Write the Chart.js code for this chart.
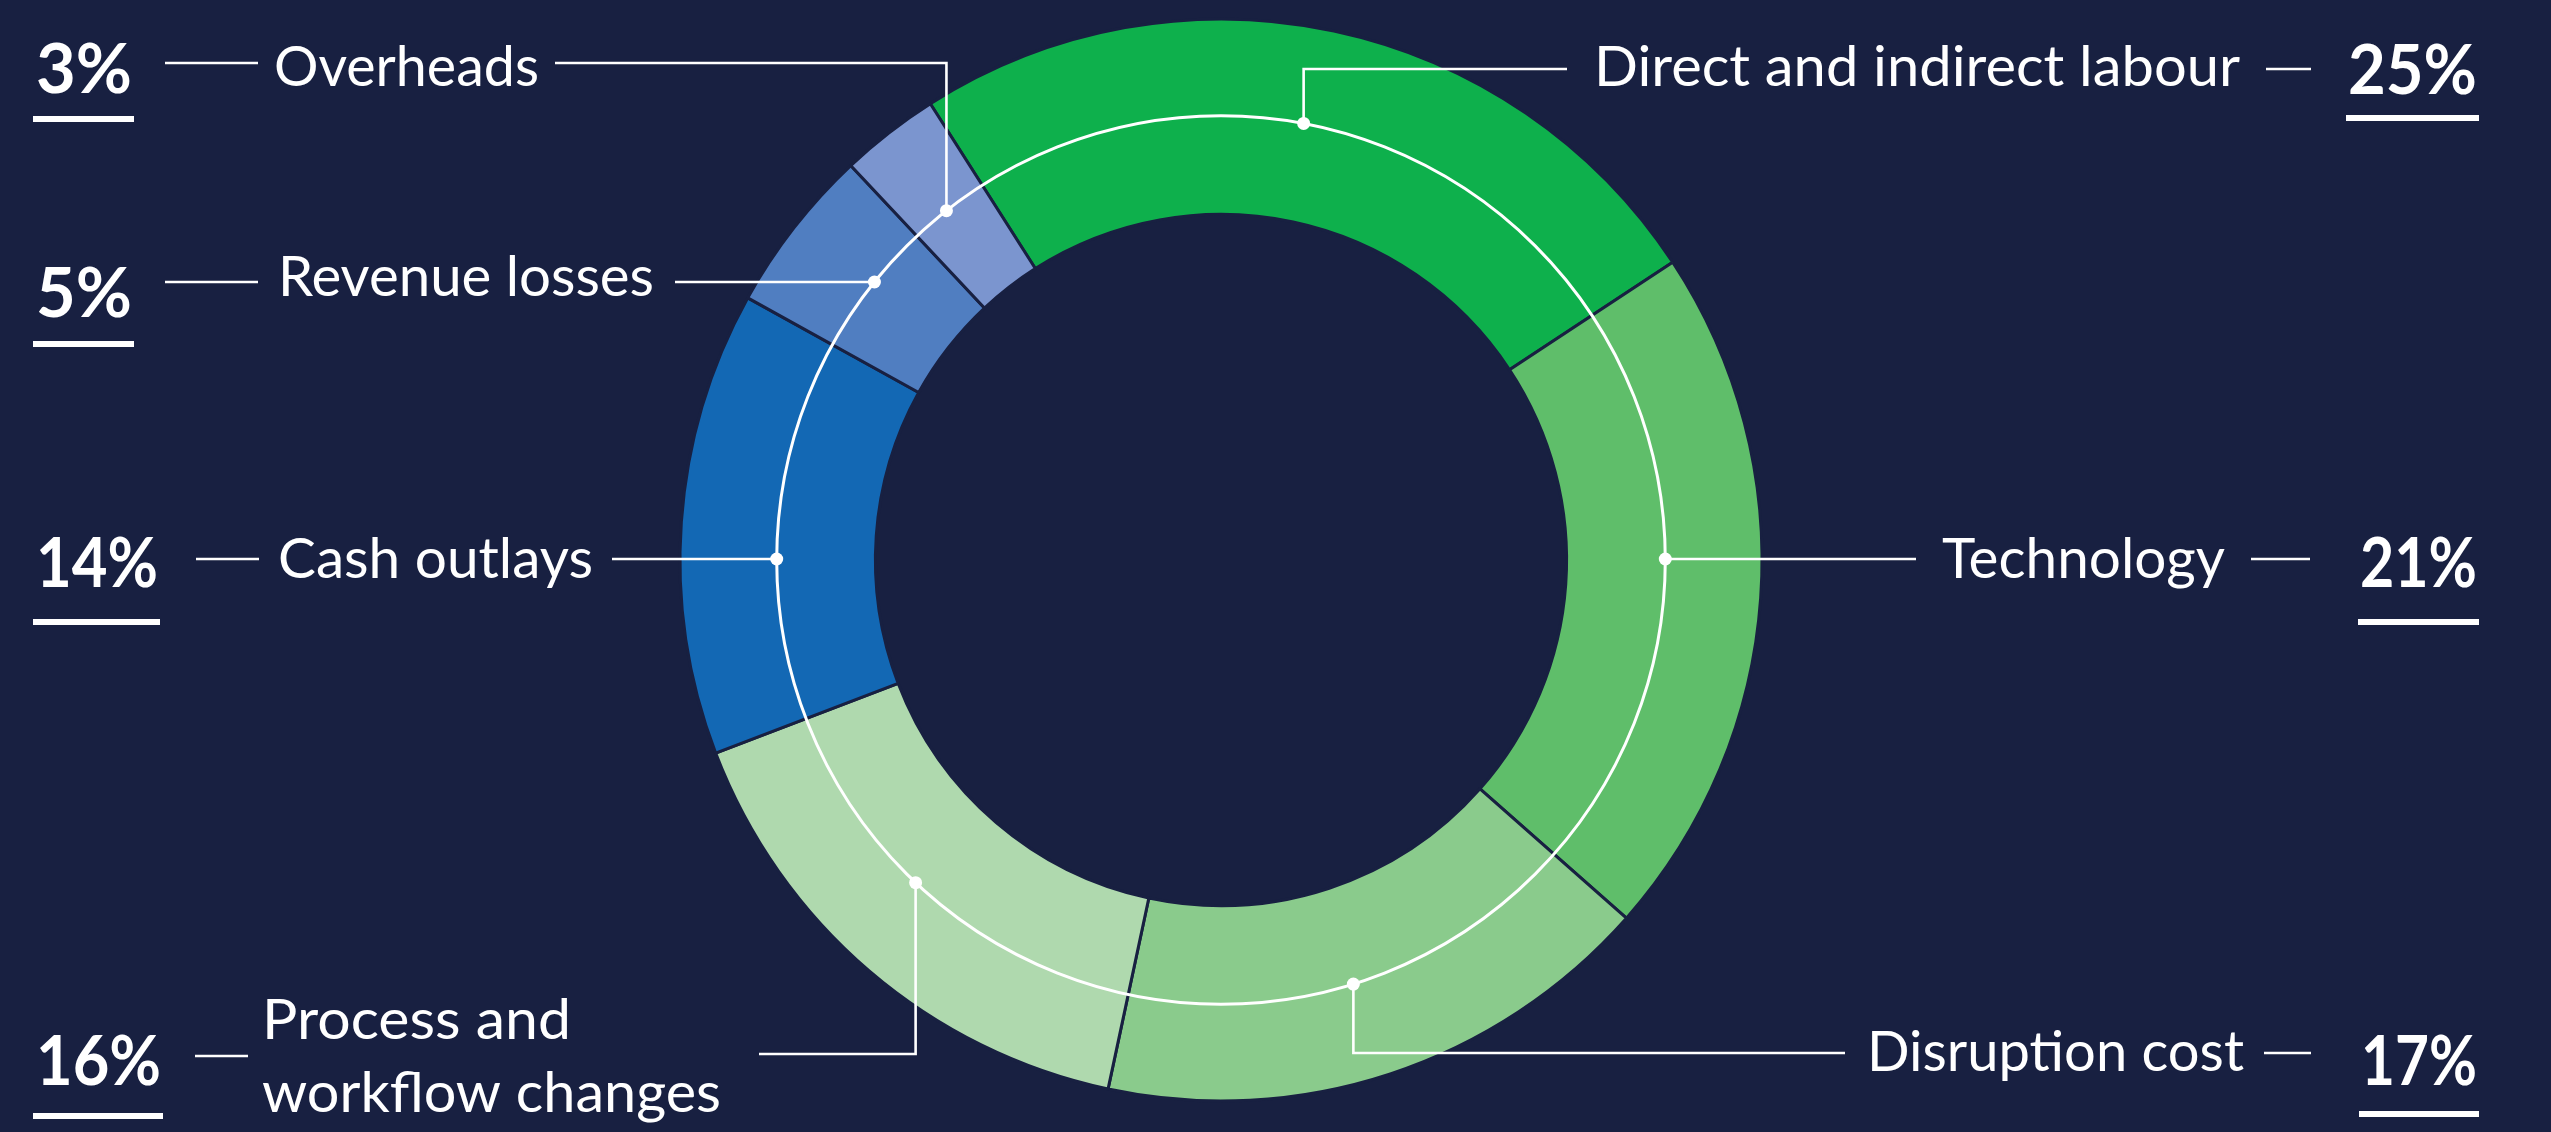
<!DOCTYPE html>
<html><head><meta charset="utf-8">
<script src="https://cdn.jsdelivr.net/npm/chart.js@4.4.1/dist/chart.umd.min.js"></script>
<style>html,body{margin:0;padding:0;background:#182041;overflow:hidden}canvas{display:block}</style>
</head><body>
<canvas id="c" width="2551" height="1132" style="width:2551px;height:1132px"></canvas>
<script>
// ---- data ----
const categories = ['Direct and indirect labour', 'Technology', 'Disruption cost', 'Process and workflow changes', 'Cash outlays', 'Revenue losses', 'Overheads'];
const shares = [25, 21, 17, 16, 14, 5, 3];
const percentLabels = ['25%', '21%', '17%', '16%', '14%', '5%', '3%'];
const colors = ['#0EB04C', '#5FBE6A', '#8ACB8C', '#AFD9AE', '#1368B4', '#507EC1', '#7B95CF'];

// ---- layout (label placement, not data) ----
const BG = '#182041';
const layout = [
  {side:'right', anchor:0.485, lineY:69, leaderEnd:1567, labelX:2240, labelBase:[86], labelW:[646], shortX:[2266,2311], pctX:2477, pctBase:94, pctW:129, ulY:115},
  {side:'right', level:true, lineY:559, leaderEnd:1916, labelX:2225, labelBase:[578], labelW:[283], shortX:[2251,2310], pctX:2477, pctBase:587, pctW:117, ulY:619},
  {side:'right', anchor:0.515, lineY:1053, leaderEnd:1845, labelX:2244, labelBase:[1071], labelW:[377], shortX:[2264,2311], pctX:2477, pctBase:1085, pctW:116, ulY:1111},
  {side:'left', anchor:0.55, lineY:1054, leaderEnd:759, labelX:262, labelBase:[1039,1112], labelW:[309,459], wrapAfter:2, shortX:[195,248], shortY:1056, pctX:36, pctBase:1085, pctW:125, ulY:1113},
  {side:'left', level:true, lineY:559, leaderEnd:612, labelX:278, labelBase:[578], labelW:[315], shortX:[196,259], pctX:36, pctBase:587, pctW:122, ulY:619},
  {side:'left', level:true, lineY:282, leaderEnd:675, labelX:278, labelBase:[296], labelW:[376], shortX:[165,258], pctX:36, pctBase:317, pctW:96, ulY:341},
  {side:'left', anchor:0.47, lineY:63, leaderEnd:555, labelX:274, labelBase:[86], labelW:[265], shortX:[165,258], pctX:36, pctBase:93, pctW:96, ulY:116}
];
const LABEL_FONT = '56px Lato, "Open Sans", sans-serif';
const PCT_FONT = 'bold 68px Lato, "Open Sans", sans-serif';

function fitText(c, text, x, y, w, align) {
  c.textAlign = align;
  c.textBaseline = 'alphabetic';
  const m = c.measureText(text).width;
  const sx = w / m;
  c.save();
  c.translate(x, y);
  c.scale(sx, 1);
  c.fillText(text, 0, 0);
  c.restore();
}

const annot = {
  id: 'annot',
  afterDatasetsDraw(chart) {
    const c = chart.ctx;
    const meta = chart.getDatasetMeta(0);
    const a0 = meta.data[0];
    const cx = a0.x, cy = a0.y;
    const R = (a0.innerRadius + a0.outerRadius) / 2 + 1;
    c.save();
    c.strokeStyle = '#ffffff';
    c.fillStyle = '#ffffff';
    c.lineWidth = 3;
    c.beginPath(); c.arc(cx, cy, R, 0, Math.PI * 2); c.stroke();

    meta.data.forEach((arc, i) => {
      const L = layout[i];
      let px, py;
      if (L.level) {
        const s = Math.max(-1, Math.min(1, (L.lineY - cy) / R));
        let th = Math.asin(s);
        if (L.side === 'left') th = Math.PI - th;
        px = cx + R * Math.cos(th); py = L.lineY;
      } else {
        const th = arc.startAngle + (arc.endAngle - arc.startAngle) * L.anchor;
        px = cx + R * Math.cos(th); py = cy + R * Math.sin(th);
      }
      c.lineWidth = 2.6;
      c.beginPath();
      c.moveTo(px, py);
      if (Math.abs(py - L.lineY) > 0.5) c.lineTo(px, L.lineY);
      c.lineTo(L.leaderEnd, L.lineY);
      c.stroke();
      c.beginPath(); c.arc(px, py, 6.5, 0, Math.PI * 2); c.fill();
      const sy = L.shortY || L.lineY;
      c.beginPath(); c.moveTo(L.shortX[0], sy); c.lineTo(L.shortX[1], sy); c.stroke();
      c.font = LABEL_FONT;
      const words = categories[i].split(' ');
      const lines = L.wrapAfter ? [words.slice(0, L.wrapAfter).join(' '), words.slice(L.wrapAfter).join(' ')] : [categories[i]];
      lines.forEach((t, k) => {
        fitText(c, t, L.labelX, L.labelBase[k], L.labelW[k], L.side === 'left' ? 'left' : 'right');
      });
      c.font = PCT_FONT;
      fitText(c, percentLabels[i], L.pctX, L.pctBase, L.pctW, L.side === 'left' ? 'left' : 'right');
      if (L.side === 'left') c.fillRect(L.pctX - 3, L.ulY, L.pctW + 5, 6);
      else c.fillRect(L.pctX - L.pctW - 2, L.ulY, L.pctW + 4, 6);
    });
    c.restore();
  }
};

new Chart(document.getElementById('c'), {
  type: 'doughnut',
  data: {
    labels: categories,
    datasets: [{
      data: shares,
      backgroundColor: colors,
      borderColor: BG,
      borderWidth: 3,
      hoverOffset: 0
    }]
  },
  options: {
    responsive: false,
    animation: false,
    devicePixelRatio: 1,
    rotation: -32.5,
    radius: 541,
    cutout: 344,
    events: [],
    layout: { padding: { left: 0, right: 109, top: 20, bottom: 32 } },
    plugins: { legend: { display: false }, tooltip: { enabled: false } }
  },
  plugins: [annot]
});
</script>
</body></html>
